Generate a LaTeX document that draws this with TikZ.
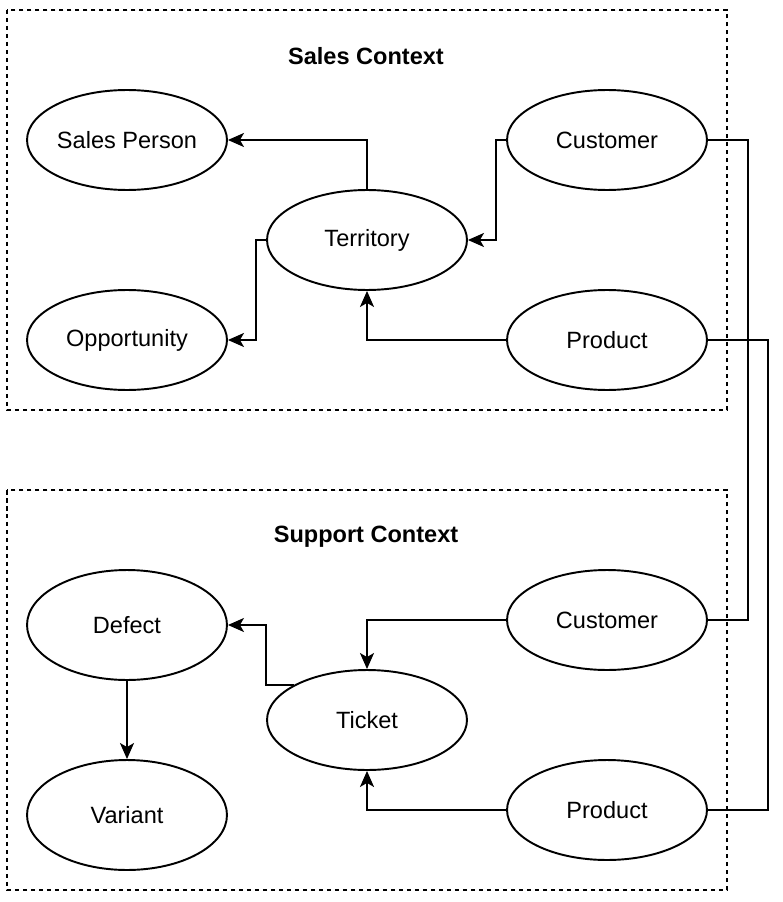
\documentclass[tikz,border=0pt]{standalone}
\usepackage{fontspec}
\setmainfont{Liberation Sans}
\usetikzlibrary{positioning}
\usetikzlibrary{arrows.meta}
\usetikzlibrary{shapes.geometric}
\tikzset{ent/.style = {draw, ellipse, line width = 1.1pt, inner sep = 0, minimum width = 4cm, minimum height = 2cm, font = \fontsize{13.4}{16}\selectfont}}
\tikzset{arr/.style = {line width = 1.1pt, -{Stealth[length = 0.32cm, width = 0.28cm, inset = 0.08cm]}}}
\tikzset{ctx/.style = {draw, line width = 0.9pt, dash pattern = on 0.09cm off 0.07cm}}

\begin{document}
\begin{tikzpicture}[x = 0.02cm, y = -0.02cm]
    \useasboundingbox (0,0) rectangle (783,902);
    \draw[ctx] (7,10) rectangle (727,410);
    \draw[ctx] (7,490) rectangle (727,890);
    \node[font = \fontsize{13.4}{16}\selectfont\bfseries] (salestitle) at (366,56) {Sales Context};
    \node[font = \fontsize{13.4}{16}\selectfont\bfseries] (supporttitle) at (366,537) {Support Context};
    \node[ent] (salesperson) at (127,140) {Sales Person};
    \node[ent] (customer) at (607,140) {Customer};
    \node[ent] (territory) at (367,240) {Territory};
    \node[ent] (opportunity) at (127,340) {Opportunity};
    \node[ent] (product) at (607,340) {Product};
    \node[ent, minimum height = 2.2cm] (defect) at (127,625) {Defect};
    \node[ent] (customer') at (607,620) {Customer};
    \node[ent] (ticket) at (367,720) {Ticket};
    \node[ent, minimum height = 2.2cm] (variant) at (127,815) {Variant};
    \node[ent] (product') at (607,810) {Product};
    \draw[arr] (territory.north) |- (salesperson.east);
    \draw[arr] (customer.west) -- ++(-10,0) |- (territory.east);
    \draw[arr] (territory.west) -- ++(-10,0) |- (opportunity.east);
    \draw[arr] (product.west) -| (territory.south);
    \draw[line width = 1.1pt] (customer.east) -- ++(40,0) |- (customer'.east);
    \draw[line width = 1.1pt] (product.east) -- ++(60,0) |- (product'.east);
    \draw[arr] (customer'.west) -| (ticket.north);
    \draw[arr] (ticket.154) -- (ticket.154 -| ticket.west) |- (defect.east);
    \draw[arr] (defect) -- (variant);
    \draw[arr] (product'.west) -| (ticket.south);
\end{tikzpicture}
\end{document}
